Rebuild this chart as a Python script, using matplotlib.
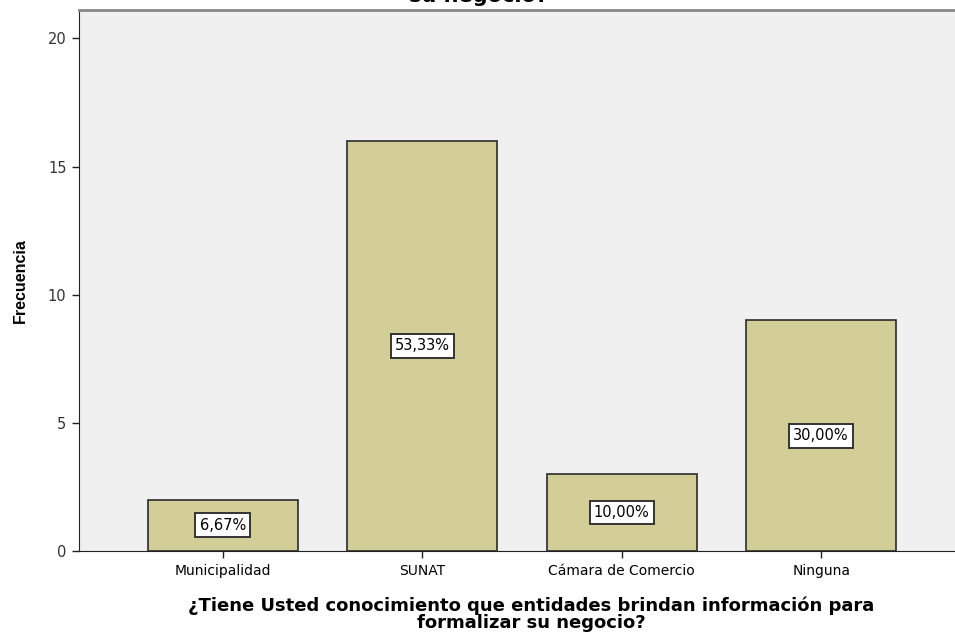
import matplotlib
matplotlib.use("Agg")
import matplotlib.pyplot as plt

categorias = ["Municipalidad", "SUNAT", "Cámara de Comercio", "Ninguna"]
frecuencia = [2, 16, 3, 9]
porcentajes = ["6,67%", "53,33%", "10,00%", "30,00%"]
yticks = [0, 5, 10, 15, 20]

plt.rcParams['font.family'] = ['DejaVu Sans']

fig = plt.figure(figsize=(9.55, 6.37), dpi=100)
ax = fig.add_axes([0.0827, 0.135, 0.928, 0.849])
ax.set_facecolor("#f0f0f0")

x = list(range(len(categorias)))
ax.bar(x, frecuencia, width=0.752, color="#d3ce97", edgecolor="#2b2b2b", linewidth=1.2, zorder=2)

for xi, f, p in zip(x, frecuencia, porcentajes):
    ax.text(xi, f / 2, p, ha="center", va="center", fontsize=10.5, zorder=3,
            bbox=dict(boxstyle="square,pad=0.3", facecolor="white", edgecolor="#333333", linewidth=1.4))

ax.set_xlim(-0.722, 3.722)
ax.set_ylim(0, 21.1)
ax.set_xticks(x)
ax.set_xticklabels(categorias, fontsize=10)
ax.set_yticks(yticks)
ax.set_yticklabels([str(t) for t in yticks], fontsize=10.5, color="#333333")
ax.tick_params(axis="both", length=5, width=1, color="#222222", pad=4)

ax.spines["left"].set_color("#222222")
ax.spines["bottom"].set_color("#222222")
ax.spines["top"].set_color("#888888")
ax.spines["top"].set_linewidth(2)
ax.spines["right"].set_visible(False)

ax.set_ylabel("Frecuencia", fontsize=11.5, fontweight="bold", labelpad=14,
              family="Liberation Sans")
ax.set_xlabel("¿Tiene Usted conocimiento que entidades brindan información para\nformalizar su negocio?",
              fontsize=13, fontweight="bold", labelpad=14, linespacing=0.9)
ax.xaxis.label.set_x(0.51)

# titulo cortado en el borde superior
fig.text(478 / 955, 1 - 2.5 / 637, "su negocio?", ha="center", va="baseline",
         fontsize=15, fontweight="bold")

fig.savefig("out.png", dpi=100)
